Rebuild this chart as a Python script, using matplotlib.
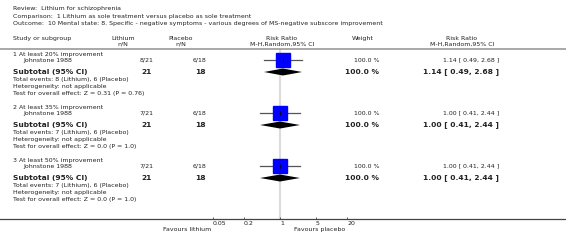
import numpy as np
import matplotlib
matplotlib.use("Agg")
import matplotlib.pyplot as plt
from matplotlib.transforms import blended_transform_factory

# data
groups = ["1 At least 20% improvement", "2 At least 35% improvement", "3 At least 50% improvement"]
study = "Johnstone 1988"
li_events = [8, 7, 7]
li_total = [21, 21, 21]
pl_events = [6, 6, 6]
pl_total = [18, 18, 18]
rr = [1.14, 1.00, 1.00]
ci_low = [0.49, 0.41, 0.41]
ci_high = [2.68, 2.44, 2.44]
weights = [100.0, 100.0, 100.0]
z_vals = ["0.31", "0.0", "0.0"]
p_vals = ["0.76", "1.0", "1.0"]
ticks = [0.05, 0.2, 1, 5, 20]
tick_labels = ["0.05", "0.2", "1", "5", "20"]

W, H = 566, 249
fig = plt.figure(figsize=(W / 100, H / 100), dpi=100)
ax = fig.add_axes([0, 0, 1, 1])
ax.set_xscale("log")
# 1 sits at x=280px, 51.5 px per decade
ax.set_xlim(10 ** (-280 / 51.5), 10 ** ((W - 280) / 51.5))
ax.set_ylim(H, 0)
ax.axis("off")
tr = blended_transform_factory(ax.transAxes, ax.transData)

fs = 4.5
fsb = 5.4
txt = "#222222"

def t(px, y, s, ha="left", size=fs, bold=False):
    ax.text(px / W, y, s, transform=tr, ha=ha, va="center", fontsize=size,
            fontweight="bold" if bold else "normal", color=txt)

# title block
t(13, 8, "Review:  Lithium for schizophrenia")
t(13, 16, "Comparison:  1 Lithium as sole treatment versus placebo as sole treatment")
t(13, 23.5, "Outcome:  10 Mental state: 8. Specific - negative symptoms - various degrees of MS-negative subscore improvement")

# column headers
t(13, 38, "Study or subgroup")
t(123, 38, "Lithium", ha="center")
t(123, 44, "n/N", ha="center")
t(181, 38, "Placebo", ha="center")
t(181, 44, "n/N", ha="center")
t(282, 38, "Risk Ratio", ha="center")
t(282, 44, "M-H,Random,95% CI", ha="center")
t(363, 38, "Weight", ha="center")
t(462, 38, "Risk Ratio", ha="center")
t(462, 44, "M-H,Random,95% CI", ha="center")
ax.axhline(48.5, color="#999999", lw=1.2)

# vertical line of no effect
ax.vlines(1, 49, 219, color="#dddddd", lw=1.6, zorder=0)

for i, g in enumerate(groups):
    y0 = 54 + 53 * i
    ys, ysub = y0 + 6, y0 + 18
    t(13, y0, g)
    t(23, ys, study)
    t(153, ys, f"{li_events[i]}/{li_total[i]}", ha="right")
    t(206, ys, f"{pl_events[i]}/{pl_total[i]}", ha="right")
    t(379, ys, f"{weights[i]:.1f} %", ha="right")
    t(499, ys, f"{rr[i]:.2f} [ {ci_low[i]:.2f}, {ci_high[i]:.2f} ]", ha="right")
    # study estimate
    ax.plot([ci_low[i], ci_high[i]], [ys, ys], color="#555555", lw=0.9, zorder=2)
    ax.plot(rr[i], ys, marker="s", ms=9.5, color="#0000ff", mec="#0000ff", zorder=3)
    ax.plot(rr[i], ys, marker="|", ms=3, color="#000000", mew=0.6, zorder=4)

    # subtotal
    t(13, ysub, "Subtotal (95% CI)", size=fsb, bold=True)
    t(152, ysub, f"{sum([li_total[i]])}", ha="right", size=fsb, bold=True)
    t(206, ysub, f"{sum([pl_total[i]])}", ha="right", size=fsb, bold=True)
    t(379, ysub, f"{weights[i]:.1f} %", ha="right", size=fsb, bold=True)
    t(499, ysub, f"{rr[i]:.2f} [ {ci_low[i]:.2f}, {ci_high[i]:.2f} ]", ha="right", size=fsb, bold=True)
    ax.fill([ci_low[i], rr[i], ci_high[i], rr[i]], [ysub, ysub - 3.5, ysub, ysub + 3.5],
            color="black", zorder=3, lw=0)

    t(13, ysub + 7, f"Total events: {li_events[i]} (Lithium), {pl_events[i]} (Placebo)")
    t(13, ysub + 14, "Heterogeneity: not applicable")
    t(13, ysub + 21, f"Test for overall effect: Z = {z_vals[i]} (P = {p_vals[i]})")

# bottom scale
ax.axhline(219, color="#444444", lw=0.9)
ax.vlines(ticks, 217, 219, color="#444444", lw=0.6)
for v, lab in zip(ticks, tick_labels):
    ax.text(v, 223.5, lab, ha="left", va="center", fontsize=fs, color=txt)
t(163, 229.5, "Favours lithium")
t(294, 229.5, "Favours placebo")

fig.savefig("out.png", dpi=100)
